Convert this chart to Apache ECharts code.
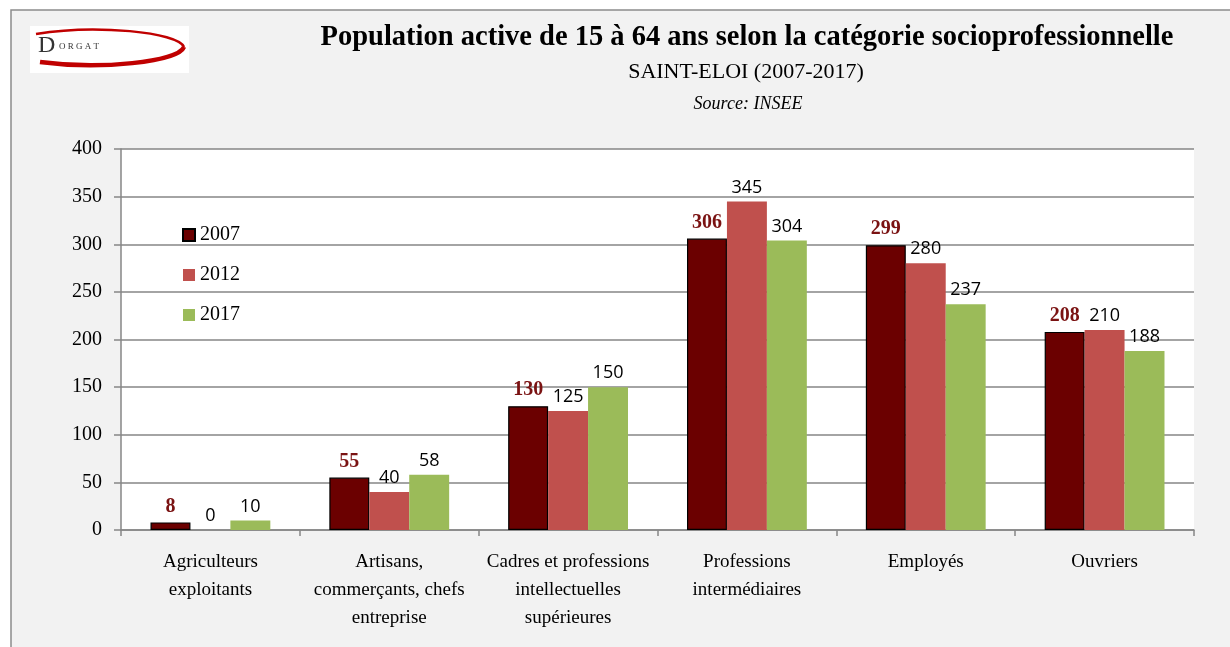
<!DOCTYPE html>
<html>
<head>
<meta charset="utf-8">
<script src="https://cdn.jsdelivr.net/npm/echarts@6/dist/echarts.min.js"></script>
<style>
html,body{margin:0;padding:0;background:#ffffff;}
#chart{width:1230px;height:647px;}
</style>
</head>
<body>
<div id="chart"></div>
<script>
const categories = [
  'Agriculteurs\nexploitants',
  'Artisans,\ncommerçants, chefs\nentreprise',
  'Cadres et professions\nintellectuelles\nsupérieures',
  'Professions\nintermédiaires',
  'Employés',
  'Ouvriers'
];
const years = ['2007', '2012', '2017'];
const values2007 = [8, 55, 130, 306, 299, 208];
const values2012 = [0, 40, 125, 345, 280, 210];
const values2017 = [10, 58, 150, 304, 237, 188];
const yTicks = [0, 50, 100, 150, 200, 250, 300, 350, 400];

const serif = '"Liberation Serif", "DejaVu Serif", serif';
const sans = '"Open Sans", "Liberation Sans", sans-serif';

const chart = echarts.init(document.getElementById('chart'), null, {renderer: 'canvas'});

const option = {
  backgroundColor: '#ffffff',
  animation: false,
  graphic: [
    {type: 'rect', z: -10, shape: {x: 11, y: 10, width: 1240, height: 660},
     style: {fill: '#f2f2f2', stroke: '#8c8c8c', lineWidth: 1.5}},
    {type: 'rect', z: -5, shape: {x: 30, y: 26, width: 159, height: 47},
     style: {fill: '#ffffff'}},
    {type: 'bezierCurve', shape: {x1: 36, y1: 34, x2: 184, y2: 47, cpx1: 95, cpy1: 24, cpx2: 178, cpy2: 32},
     style: {stroke: '#c00000', lineWidth: 2.5, fill: null}},
    {type: 'bezierCurve', shape: {x1: 40, y1: 62, x2: 184, y2: 47, cpx1: 100, cpy1: 70, cpx2: 178, cpy2: 62},
     style: {stroke: '#c00000', lineWidth: 4.5, fill: null}},
    {type: 'text', style: {x: 38, y: 34, text: 'D', font: '24px ' + serif, fill: '#333333'}},
    {type: 'text', style: {x: 59, y: 42, text: 'O R G A T', font: '9px ' + serif, fill: '#333333'}},
    {type: 'text', style: {x: 747, y: 38, text: 'Population active de 15 à 64 ans selon la catégorie socioprofessionnelle',
      font: 'bold 28.5px ' + serif, fill: '#000000', align: 'center', verticalAlign: 'middle'}},
    {type: 'text', style: {x: 746, y: 72, text: 'SAINT-ELOI (2007-2017)',
      font: '22px ' + serif, fill: '#000000', align: 'center', verticalAlign: 'middle'}},
    {type: 'text', style: {x: 748, y: 104, text: 'Source: INSEE',
      font: 'italic 18px ' + serif, fill: '#000000', align: 'center', verticalAlign: 'middle'}}
  ],
  legend: {
    data: years,
    orient: 'vertical',
    left: 177,
    top: 220,
    itemWidth: 12,
    itemHeight: 12,
    itemGap: 20,
    icon: 'rect',
    textStyle: {fontFamily: serif, fontSize: 20, color: '#000000'}
  },
  grid: {left: 121, right: 36, top: 149, bottom: 117, backgroundColor: '#ffffff', show: true, borderWidth: 0},
  xAxis: {
    type: 'category',
    data: categories,
    axisLine: {lineStyle: {color: '#868686', width: 1.5}},
    axisTick: {show: true, length: 6, lineStyle: {color: '#868686', width: 1.5}},
    axisLabel: {fontFamily: serif, fontSize: 19, color: '#000000', lineHeight: 28, margin: 18, interval: 0}
  },
  yAxis: {
    type: 'value',
    min: 0, max: 400, interval: 50,
    axisLine: {show: true, lineStyle: {color: '#868686', width: 1.5}},
    axisTick: {show: true, length: 7, lineStyle: {color: '#868686', width: 1.5}},
    splitLine: {lineStyle: {color: '#868686', width: 1.5}},
    axisLabel: {fontFamily: serif, fontSize: 20, color: '#000000', margin: 19,
      formatter: v => yTicks.includes(v) ? String(v) : ''}
  },
  series: [
    {name: '2007', type: 'bar', data: values2007, barGap: '0%', barCategoryGap: '33%',
     itemStyle: {color: '#6b0000', borderColor: '#000000', borderWidth: 1.2},
     label: {show: true, position: 'top', distance: 6, fontFamily: serif, fontWeight: 'bold', fontSize: 20, color: '#7a1212'}},
    {name: '2012', type: 'bar', data: values2012,
     itemStyle: {color: '#c0504d'},
     label: {show: true, position: 'top', distance: 5, fontFamily: sans, fontSize: 18, color: '#000000'}},
    {name: '2017', type: 'bar', data: values2017,
     itemStyle: {color: '#9bbb59'},
     label: {show: true, position: 'top', distance: 5, fontFamily: sans, fontSize: 18, color: '#000000'}}
  ]
};
chart.setOption(option);
</script>
</body>
</html>
